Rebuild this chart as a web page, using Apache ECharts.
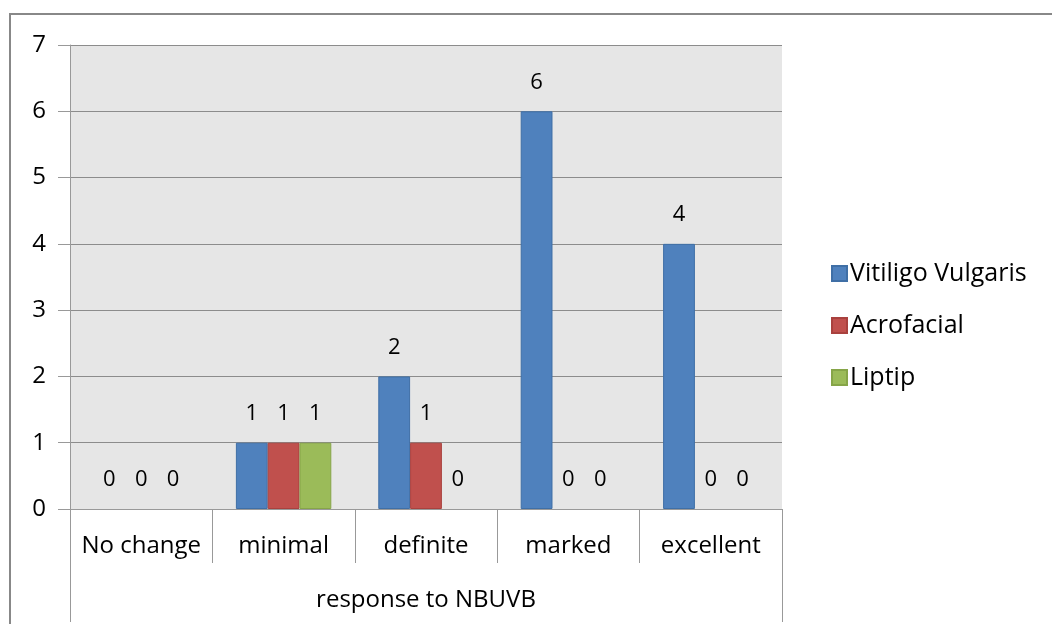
<!DOCTYPE html>
<html>
<head>
<meta charset="utf-8">
<script src="https://cdn.jsdelivr.net/npm/echarts@6/dist/echarts.min.js"></script>
<style>html,body{margin:0;padding:0;background:#fff}#c{width:1052px;height:624px}</style>
</head>
<body>
<div id="c"></div>
<script>
const categories = ['No change', 'minimal', 'definite', 'marked', 'excellent'];
const axisTitle = 'response to NBUVB';
const seriesNames = ['Vitiligo Vulgaris', 'Acrofacial', 'Liptip'];
const vitiligoVulgaris = [0, 1, 2, 6, 4];
const acrofacial = [0, 1, 1, 0, 0];
const liptip = [0, 1, 0, 0, 0];
const yTicks = [0, 1, 2, 3, 4, 5, 6, 7];

const colors = ['#4f81bd', '#c0504d', '#9bbb59'];
const borders = ['#3f6fa6', '#a9413e', '#86a548'];
const FONT = 'Open Sans';

const chart = echarts.init(document.getElementById('c'), null, {renderer: 'canvas'});
const seriesData = [vitiligoVulgaris, acrofacial, liptip];
chart.setOption({
  animation: false,
  textStyle: {fontFamily: FONT},
  grid: {left: 70, top: 45, right: 270, bottom: 115, show: true, backgroundColor: '#e6e6e6', borderWidth: 0},
  legend: {
    orient: 'vertical', left: 826, top: 256, icon: 'rect',
    itemWidth: 15, itemHeight: 15, itemGap: 27,
    textStyle: {fontFamily: FONT, fontSize: 25, color: '#000', padding: [0, 0, 0, -2]},
    data: seriesNames
  },
  xAxis: [{
    type: 'category', data: categories, position: 'bottom',
    axisLine: {show: true, lineStyle: {color: '#999', width: 1}},
    axisTick: {show: true, interval: 0, length: 54, lineStyle: {color: '#999'}},
    axisLabel: {interval: 0, fontSize: 24, color: '#000', margin: 25, fontFamily: FONT},
    splitLine: {show: false}
  }, {
    type: 'category', data: [axisTitle], position: 'bottom', gridIndex: 0,
    axisLine: {show: false},
    axisTick: {show: true, length: 113, lineStyle: {color: '#999'}},
    axisLabel: {fontSize: 24, color: '#000', margin: 79, fontFamily: FONT}
  }],
  yAxis: {
    type: 'value', min: yTicks[0], max: yTicks[yTicks.length - 1], interval: 1,
    axisLine: {show: true, lineStyle: {color: '#999'}},
    axisTick: {show: true, length: 12, lineStyle: {color: '#999'}},
    axisLabel: {fontSize: 24, color: '#000', margin: 24, fontFamily: FONT},
    splitLine: {show: true, lineStyle: {color: '#8c8c8c', width: 1}}
  },
  series: seriesNames.map((n, i) => ({
    name: n, type: 'bar', xAxisIndex: 0,
    data: seriesData[i].map(v => ({value: v, itemStyle: {borderWidth: v ? 1 : 0}})),
    barGap: '0%', barCategoryGap: '33%',
    itemStyle: {color: colors[i], borderColor: borders[i], borderWidth: 1},
    label: {show: true, position: 'top', distance: 18, fontSize: 22, color: '#000', fontFamily: FONT}
  })),
  graphic: [{
    type: 'polyline', silent: true,
    shape: {points: [[10, 624], [10, 14], [1052, 14]]},
    style: {stroke: '#888', lineWidth: 2, fill: null}
  }]
});
</script>
</body>
</html>
